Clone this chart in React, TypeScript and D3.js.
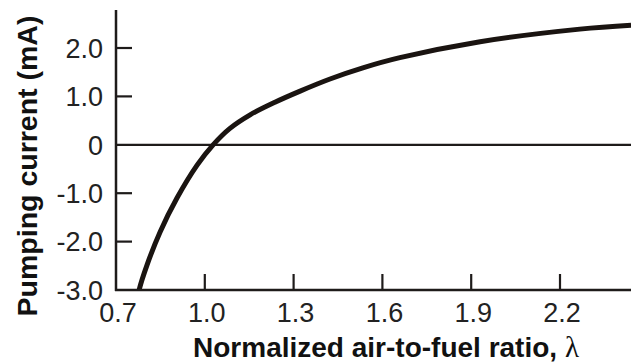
import React from "react";
import * as d3 from "d3";

const lambdaValues = [0.772, 0.778, 0.805, 0.849, 0.906, 0.974, 1.028, 1.085, 1.153, 1.237, 1.322, 1.423, 1.534, 1.659, 1.93, 2.267, 2.44];
const currentValues = [-3.2, -3.0, -2.48, -1.8, -1.1, -0.42, 0, 0.34, 0.62, 0.88, 1.11, 1.36, 1.59, 1.8, 2.13, 2.39, 2.47];
const xTicks = [0.7, 1.0, 1.3, 1.6, 1.9, 2.2];
const yTicks = [-3, -2, -1, 0, 1, 2];
const yTickLabels = ["-3.0", "-2.0", "-1.0", "0", "1.0", "2.0"];
const xTitleMain = "Normalized air-to-fuel ratio, ";
const xTitleSymbol = "λ";
const yTitle = "Pumping current (mA)";

const W = 631;
const H = 363;

export default function App() {
  const x = d3.scaleLinear().domain([0.7, 2.2]).range([116, 560]);
  const y = d3.scaleLinear().domain([-3, 2]).range([290, 48]);
  const pts = lambdaValues.map((l, i) => [l, currentValues[i]] as [number, number]);
  const line = d3
    .line<[number, number]>()
    .x((d) => x(d[0]))
    .y((d) => y(d[1]))
    .curve(d3.curveCatmullRom.alpha(0.5));
  const font = "'Liberation Sans', Arial, Helvetica, sans-serif";
  const axisColor = "#1e1b1a";
  const x0 = x(0.7);
  const yBottom = y(-3);
  return (
    <svg
      width={W}
      height={H}
      style={{ position: "absolute", left: 0, top: 0, background: "#fff" }}
      fontFamily={font}
    >
      <defs>
        <clipPath id="plot">
          <rect x={x0} y={0} width={W - x0} height={yBottom} />
        </clipPath>
      </defs>
      <line x1={x0} x2={W} y1={y(0)} y2={y(0)} stroke={axisColor} strokeWidth={2.2} />
      <path d={line(pts) || ""} fill="none" stroke="#1a1411" strokeWidth={5} clipPath="url(#plot)" />
      <line x1={x0} x2={x0} y1={10} y2={yBottom + 1} stroke={axisColor} strokeWidth={2.5} />
      <line x1={x0 - 1} x2={W} y1={yBottom} y2={yBottom} stroke={axisColor} strokeWidth={2.5} />
      {yTicks.map((t, i) => (
        <g key={"y" + t}>
          {t !== 0 && t !== -3 && (
            <line x1={x0} x2={x0 + 16} y1={y(t)} y2={y(t)} stroke={axisColor} strokeWidth={2.2} />
          )}
          <text x={103} y={y(t)} dy="0.36em" textAnchor="end" fontSize={27} fill="#222">
            {yTickLabels[i]}
          </text>
        </g>
      ))}
      {xTicks.map((t) => (
        <g key={"x" + t}>
          {t !== 0.7 && (
            <line x1={x(t)} x2={x(t)} y1={yBottom} y2={yBottom - 16} stroke={axisColor} strokeWidth={2.2} />
          )}
          <text x={x(t) + 2} y={322} textAnchor="middle" fontSize={27} fill="#222">
            {t.toFixed(1)}
          </text>
        </g>
      ))}
      <text x={386} y={357} textAnchor="middle" fontSize={28} fontWeight="bold" fill="#111">
        {xTitleMain}
        <tspan fontFamily="'Liberation Serif', 'DejaVu Serif', serif" fontWeight="normal" fontSize={29}>
          {xTitleSymbol}
        </tspan>
      </text>
      <text
        transform={`translate(37,166) rotate(-90)`}
        textAnchor="middle"
        fontSize={28.5}
        fontWeight="bold"
        fill="#111"
      >
        {yTitle}
      </text>
    </svg>
  );
}
